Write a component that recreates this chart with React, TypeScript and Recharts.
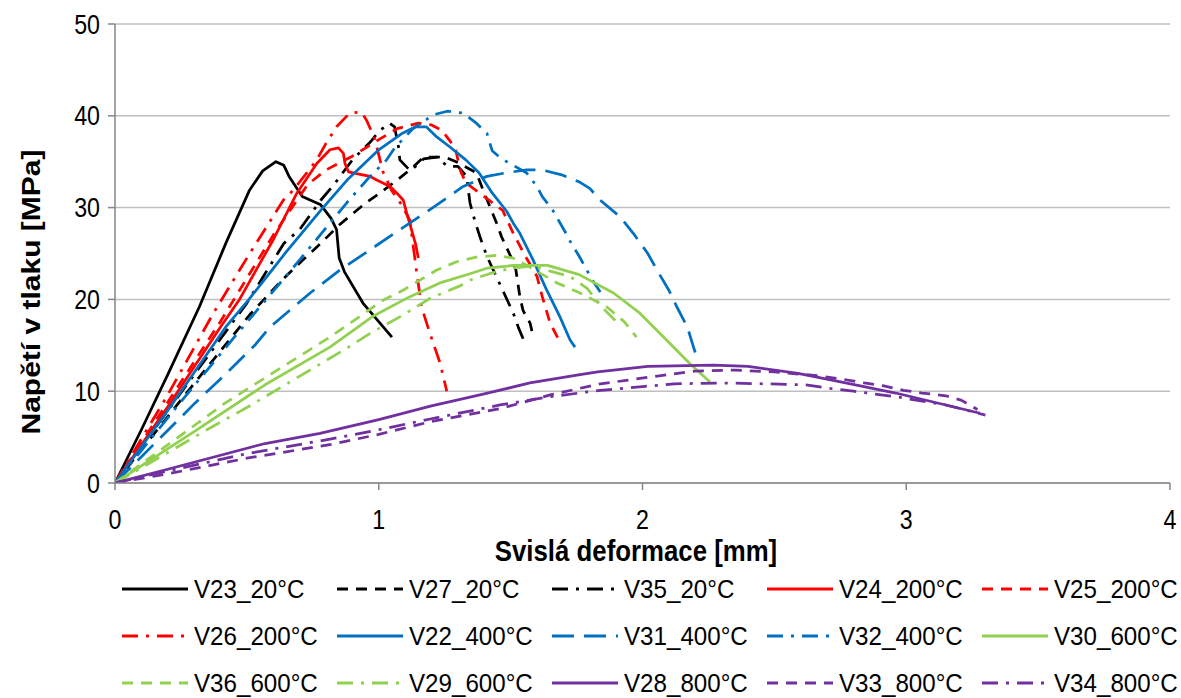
import React from "react";
import { LineChart, Line, XAxis, YAxis, CartesianGrid } from "recharts";

// deformation [mm], stress [MPa] pairs
const V23_20: [number, number][] = [[0,0],[0.1,5.8],[0.2,11.8],[0.32,19.2],[0.42,26.1],[0.51,31.9],[0.56,34.0],[0.61,35.0],[0.64,34.6],[0.66,33.4],[0.71,31.2],[0.78,30.3],[0.82,28.8],[0.84,27.6],[0.85,24.5],[0.87,23.0],[0.94,19.6],[1.05,15.9]];
const V27_20: [number, number][] = [[0,0],[0.26,9.4],[0.51,18.3],[0.64,22.3],[0.72,24.5],[0.78,26.1],[0.85,28.1],[0.95,30.5],[1.0,31.5],[1.07,33.0],[1.13,34.4],[1.17,35.5],[1.23,35.5],[1.26,35.4],[1.3,34.9],[1.37,33.8],[1.4,31.6],[1.447,28.3],[1.466,26.8],[1.5,24.7],[1.52,23.2],[1.535,20.3],[1.547,18.8],[1.574,17.4],[1.585,16.0]];
const V35_20: [number, number][] = [[0,0],[0.3,11.8],[0.5,19.6],[0.64,26.1],[0.7,27.6],[0.78,30.8],[0.83,32.5],[0.9,35.2],[0.97,37.2],[1.0,38.3],[1.04,39.2],[1.06,38.8],[1.075,36.6],[1.08,35.2],[1.12,34.0],[1.17,35.3],[1.22,35.5],[1.26,34.5],[1.3,34.5],[1.333,33.4],[1.346,30.5],[1.365,28.5],[1.384,26.8],[1.41,24.7],[1.47,21.0],[1.51,18.5],[1.53,16.9],[1.555,15.2]];
const V24_200: [number, number][] = [[0,0],[0.2,8.3],[0.4,17.0],[0.47,19.9],[0.6,26.5],[0.69,31.6],[0.765,34.8],[0.815,36.3],[0.847,36.5],[0.866,35.9],[0.872,34.8],[0.885,33.9],[0.916,33.7],[0.967,33.4],[0.992,33.0],[1.043,32.3],[1.068,31.6],[1.093,30.8],[1.106,29.4],[1.12,28.0],[1.14,26.0],[1.15,24.5]];
const V25_200: [number, number][] = [[0,0],[0.2,8.8],[0.4,17.6],[0.6,27.0],[0.73,32.5],[0.8,34.1],[0.9,35.6],[1.0,37.4],[1.07,38.6],[1.15,39.2],[1.2,39.0],[1.24,38.4],[1.29,36.5],[1.31,34.0],[1.33,32.7],[1.4,31.2],[1.47,29.7],[1.51,27.2],[1.55,25.0],[1.6,22.5],[1.62,20.3],[1.65,17.4],[1.69,15.2]];
const V26_200: [number, number][] = [[0,0],[0.2,9.6],[0.373,18.5],[0.5,24.5],[0.638,30.8],[0.676,31.9],[0.765,35.2],[0.8,37.0],[0.84,38.8],[0.89,40.3],[0.935,40.4],[0.954,39.5],[0.985,37.5],[1.016,33.9],[1.05,31.8],[1.087,30.3],[1.118,28.6],[1.144,22.9],[1.163,19.1],[1.194,16.3],[1.232,13.1],[1.258,10.0]];
const V22_400: [number, number][] = [[0,0],[0.2,7.9],[0.42,17.0],[0.505,19.9],[0.65,25.2],[0.78,29.7],[0.88,33.0],[1.0,36.3],[1.09,38.1],[1.14,38.8],[1.18,38.8],[1.22,37.7],[1.27,36.6],[1.33,35.2],[1.38,33.8],[1.43,31.6],[1.485,29.6],[1.51,28.3],[1.535,27.2],[1.585,24.3],[1.637,21.0],[1.687,18.1],[1.725,15.6],[1.744,14.8]];
const V31_400: [number, number][] = [[0,0],[0.227,6.5],[0.303,8.7],[0.417,11.8],[0.53,15.0],[0.588,17.0],[0.74,20.7],[0.853,23.2],[0.967,25.4],[1.08,27.6],[1.19,29.7],[1.245,30.8],[1.32,32.3],[1.41,33.4],[1.485,33.8],[1.56,34.1],[1.62,34.1],[1.69,33.6],[1.76,32.8],[1.8,32.1],[1.84,30.8],[1.915,29.0],[1.965,27.2],[2.02,25.0],[2.055,23.2],[2.1,21.0],[2.13,19.2],[2.17,17.0],[2.185,15.6],[2.2,14.2]];
const V32_400: [number, number][] = [[0,0],[0.24,8.5],[0.45,15.8],[0.7,24.3],[0.878,30.5],[0.967,33.4],[1.03,35.2],[1.06,36.5],[1.13,38.6],[1.206,40.1],[1.26,40.5],[1.32,40.3],[1.37,39.2],[1.41,38.1],[1.43,36.2],[1.45,35.7],[1.485,35.0],[1.56,33.8],[1.6,32.3],[1.62,31.2],[1.66,29.7],[1.71,27.2],[1.73,26.1],[1.76,24.7],[1.81,22.1],[1.84,20.8]];
const V30_600: [number, number][] = [[0,0],[0.3,5.6],[0.569,10.7],[0.815,14.8],[0.98,18.2],[1.118,20.3],[1.232,21.8],[1.346,22.8],[1.41,23.4],[1.51,23.7],[1.64,23.7],[1.76,22.7],[1.89,20.7],[1.99,18.5],[2.09,15.6],[2.18,13.0],[2.256,11.0]];
const V36_600: [number, number][] = [[0,0],[0.25,5.2],[0.417,8.7],[0.505,10.3],[0.815,15.9],[1.016,19.9],[1.092,21.0],[1.22,23.2],[1.295,24.1],[1.37,24.6],[1.447,24.8],[1.51,24.5],[1.58,23.4],[1.675,21.8],[1.763,20.7],[1.864,19.2],[1.93,17.6],[1.977,15.9]];
const V29_600: [number, number][] = [[0,0],[0.367,6.1],[0.505,8.3],[0.88,14.7],[0.967,16.3],[1.08,18.1],[1.194,20.1],[1.31,21.5],[1.346,22.1],[1.42,22.8],[1.5,23.4],[1.58,23.6],[1.66,23.0],[1.725,22.5],[1.79,21.2],[1.845,19.2],[1.9,17.6]];
const V28_800: [number, number][] = [[0,0],[0.2,1.5],[0.569,4.3],[0.777,5.4],[1.0,6.9],[1.2,8.4],[1.4,9.7],[1.573,10.9],[1.763,11.8],[1.83,12.1],[2.02,12.7],[2.27,12.85],[2.4,12.7],[2.59,11.95],[2.77,10.9],[2.96,9.8],[3.15,8.5],[3.28,7.6]];
const V33_800: [number, number][] = [[0,0],[0.2,1.0],[0.5,2.7],[0.82,4.2],[1.0,5.3],[1.2,6.7],[1.46,8.1],[1.65,9.6],[1.84,10.8],[2.07,11.7],[2.2,12.2],[2.35,12.3],[2.5,12.1],[2.66,11.7],[2.76,11.3],[2.84,10.9],[2.91,10.6],[2.99,10.1],[3.06,9.8],[3.15,9.5],[3.21,9.0],[3.27,8.0]];
const V34_800: [number, number][] = [[0,0],[0.2,1.3],[0.5,3.2],[0.82,4.8],[1.0,5.8],[1.2,7.0],[1.46,8.5],[1.65,9.4],[1.84,10.1],[2.0,10.5],[2.12,10.8],[2.3,10.9],[2.47,10.8],[2.62,10.7],[2.71,10.3],[2.8,10.0],[2.96,9.4],[3.15,8.5],[3.3,7.4]];

const xTicks = [0, 1, 2, 3, 4];
const yTicks = [0, 10, 20, 30, 40, 50];

const BLACK = "#000000";
const RED = "#FF0000";
const BLUE = "#0070C0";
const GREEN = "#92D050";
const PURPLE = "#7030A0";

const DASH = "11 8";
const LONGDASH = "22 10";
const DASHDOT = "16 8 3 8";

const series = [
  { name: "V23_20°C", pts: V23_20, color: BLACK, dash: undefined },
  { name: "V27_20°C", pts: V27_20, color: BLACK, dash: DASH },
  { name: "V35_20°C", pts: V35_20, color: BLACK, dash: DASHDOT },
  { name: "V24_200°C", pts: V24_200, color: RED, dash: undefined },
  { name: "V25_200°C", pts: V25_200, color: RED, dash: DASH },
  { name: "V26_200°C", pts: V26_200, color: RED, dash: DASHDOT },
  { name: "V22_400°C", pts: V22_400, color: BLUE, dash: undefined },
  { name: "V31_400°C", pts: V31_400, color: BLUE, dash: LONGDASH },
  { name: "V32_400°C", pts: V32_400, color: BLUE, dash: DASHDOT },
  { name: "V30_600°C", pts: V30_600, color: GREEN, dash: undefined },
  { name: "V36_600°C", pts: V36_600, color: GREEN, dash: DASH },
  { name: "V29_600°C", pts: V29_600, color: GREEN, dash: DASHDOT },
  { name: "V28_800°C", pts: V28_800, color: PURPLE, dash: undefined },
  { name: "V33_800°C", pts: V33_800, color: PURPLE, dash: DASH },
  { name: "V34_800°C", pts: V34_800, color: PURPLE, dash: DASHDOT },
];

const FONT = "'Liberation Sans', Arial, sans-serif";
const AXIS = "#868686";
const SQUEEZE = 0.86; // the original text is horizontally condensed

function XTick(props: any) {
  const { x, y, payload } = props;
  return (
    <g transform={`translate(${x},${y}) scale(${SQUEEZE},1)`}>
      <text x={0} y={0} dy="0.71em" textAnchor="middle" style={{ fontFamily: FONT, fontSize: 27, fill: "#000" }}>
        {payload.value}
      </text>
    </g>
  );
}

function YTick(props: any) {
  const { x, y, payload } = props;
  return (
    <g transform={`translate(${x},${y}) scale(${SQUEEZE},1)`}>
      <text x={0} y={0} dy="0.355em" textAnchor="end" style={{ fontFamily: FONT, fontSize: 27, fill: "#000" }}>
        {payload.value}
      </text>
    </g>
  );
}

function YTitle() {
  return (
    <text x={0} y={0} transform={`translate(40, 292) scale(${SQUEEZE},1) rotate(-90)`} textAnchor="middle"
      style={{ fontFamily: FONT, fontSize: 30, fontWeight: 700, fill: "#000" }}>
      Napětí v tlaku  [MPa]
    </text>
  );
}

function XTitle() {
  return (
    <text x={0} y={0} transform={`translate(636, 561) scale(${SQUEEZE},1)`} textAnchor="middle"
      style={{ fontFamily: FONT, fontSize: 30, fontWeight: 700, fill: "#000" }}>
      Svislá deformace [mm]
    </text>
  );
}

function LegendBox() {
  return (
    <div style={{ position: "absolute", left: 0, top: 567, width: 1181, fontFamily: FONT, fontSize: 26, color: "#000" }}>
      {series.map((s, i) => {
        const col = i % 5;
        const row = Math.floor(i / 5);
        return (
          <div key={s.name} style={{ position: "absolute", left: 120 + col * 215, top: row * 47, height: 44, display: "flex", alignItems: "center", whiteSpace: "nowrap" }}>
            <svg width={70} height={10} style={{ marginRight: 4 }}>
              <line x1={2} y1={5} x2={68} y2={5} stroke={s.color} strokeWidth={3} strokeDasharray={s.dash} />
            </svg>
            <span style={{ display: "inline-block", lineHeight: "26px", transform: `scale(${SQUEEZE * 1.08},1)`, transformOrigin: "left center" }}>{s.name}</span>
          </div>
        );
      })}
    </div>
  );
}

export default function App() {
  return (
    <div style={{ position: "absolute", left: 0, top: 0, width: 1181, height: 698, background: "#fff", overflow: "hidden" }}>
      <LineChart width={1181} height={698} margin={{ top: 24, right: 11, bottom: 0, left: 0 }}>
        <CartesianGrid vertical={false} stroke="#BFBFBF" strokeWidth={1.5} horizontalValues={yTicks} />
        <XAxis dataKey="x" type="number" domain={[0, 4]} ticks={xTicks} height={215}
          axisLine={{ stroke: AXIS, strokeWidth: 1.5 }} tickLine={{ stroke: AXIS, strokeWidth: 1.5 }} tickSize={7} tickMargin={20}
          tick={<XTick />} label={<XTitle />} allowDataOverflow />
        <YAxis type="number" domain={[0, 50]} ticks={yTicks} width={115}
          axisLine={{ stroke: AXIS, strokeWidth: 1.5 }} tickLine={{ stroke: AXIS, strokeWidth: 1.5 }} tickSize={7} tickMargin={8}
          tick={<YTick />} label={<YTitle />} allowDataOverflow />
        {series.map((s) => (
          <Line key={s.name} name={s.name} data={s.pts.map(([x, y]) => ({ x, y }))} dataKey="y" type="linear"
            stroke={s.color} strokeWidth={2.75} strokeDasharray={s.dash} strokeLinecap="butt" strokeLinejoin="round"
            dot={false} activeDot={false} isAnimationActive={false} />
        ))}
      </LineChart>
      <LegendBox />
    </div>
  );
}
